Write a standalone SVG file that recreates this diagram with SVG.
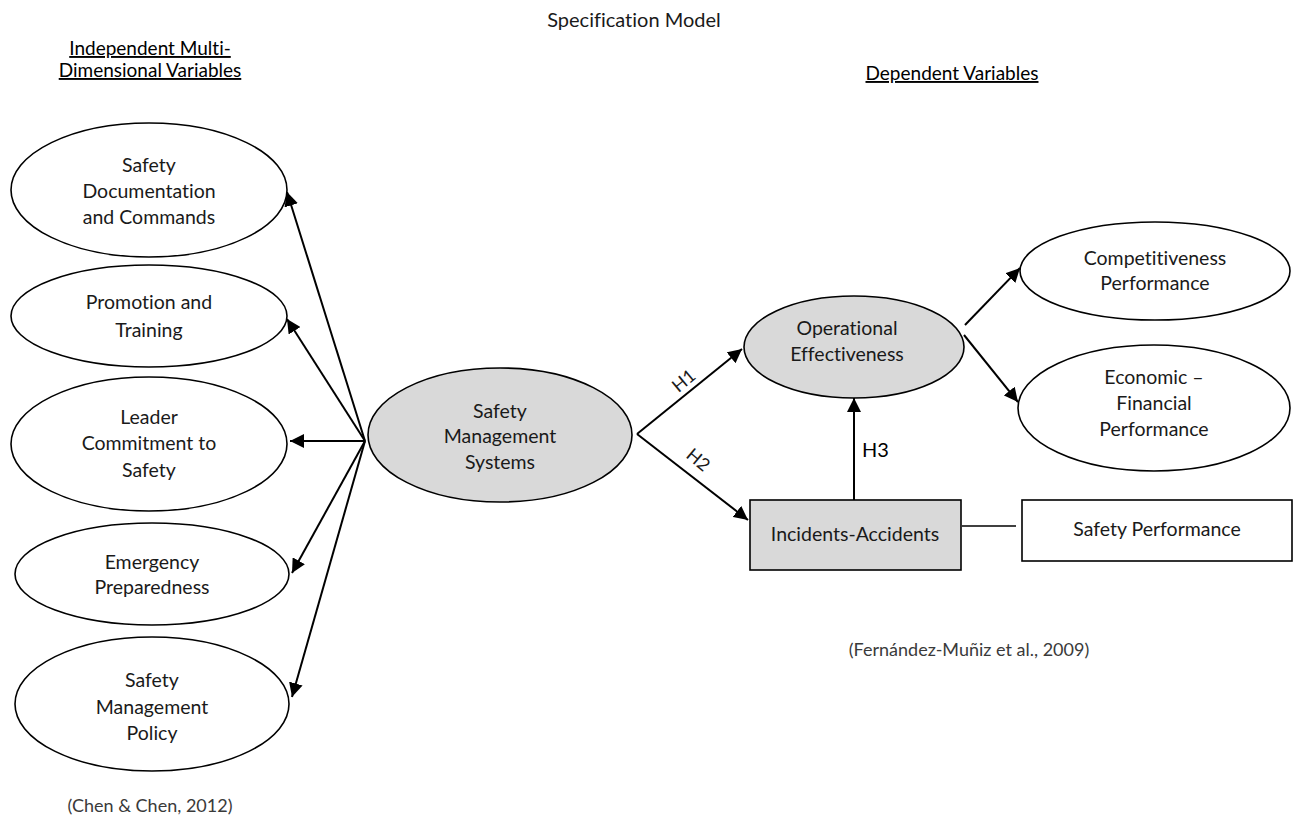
<svg xmlns="http://www.w3.org/2000/svg" width="1296" height="817" viewBox="0 0 1296 817">
<style>
text{font-family:Lato,"Open Sans","Liberation Sans",sans-serif;font-size:19.5px;fill:#1a1a1a;text-anchor:middle;font-variant-ligatures:none}
.n{fill:#fff;stroke:#000;stroke-width:1.6}
.g{fill:#d9d9d9;stroke:#000;stroke-width:1.6}
.c{stroke:#000;stroke-width:2;fill:none}
.h{font-size:19px;text-decoration:underline;fill:#000}
.cite{font-size:18px;fill:#3a3a3a}
.lbl{font-size:18px}
</style>
<defs>
<marker id="a" viewBox="0 0 10 10" refX="10" refY="5" markerWidth="7" markerHeight="7" orient="auto" markerUnits="strokeWidth">
<path d="M0,0 L10,5 L0,10 z" fill="#000"/>
</marker>
</defs>
<text x="634" y="27" style="font-size:20px">Specification Model</text>
<text class="h" x="150" y="55">Independent Multi-</text>
<text class="h" x="150" y="77">Dimensional Variables</text>
<text class="h" x="952" y="80">Dependent Variables</text>

<g id="n1"><ellipse class="n" cx="149" cy="190" rx="138" ry="67"/><text x="149" y="172">Safety</text><text x="149" y="198">Documentation</text><text x="149" y="224">and Commands</text></g>
<g id="n2"><ellipse class="n" cx="149" cy="316" rx="138" ry="51"/><text x="149" y="309">Promotion and</text><text x="149" y="337">Training</text></g>
<g id="n3"><ellipse class="n" cx="149" cy="444" rx="138" ry="67"/><text x="149" y="424">Leader</text><text x="149" y="450">Commitment to</text><text x="149" y="477">Safety</text></g>
<g id="n4"><ellipse class="n" cx="152" cy="574" rx="137" ry="51"/><text x="152" y="569">Emergency</text><text x="152" y="594">Preparedness</text></g>
<g id="n5"><ellipse class="n" cx="152" cy="704" rx="137" ry="67"/><text x="152" y="687">Safety</text><text x="152" y="714">Management</text><text x="152" y="740">Policy</text></g>
<g id="sms"><ellipse class="g" cx="500" cy="435" rx="132" ry="67"/><text x="500" y="418">Safety</text><text x="500" y="443">Management</text><text x="500" y="469">Systems</text></g>
<g id="oe"><ellipse class="g" cx="854" cy="347" rx="110" ry="51"/><text x="847" y="335">Operational</text><text x="847" y="361">Effectiveness</text></g>
<g id="cp"><ellipse class="n" cx="1155" cy="271" rx="135" ry="49"/><text x="1155" y="265">Competitiveness</text><text x="1155" y="290">Performance</text></g>
<g id="ef"><ellipse class="n" cx="1154" cy="408" rx="136" ry="63"/><text x="1154" y="384">Economic –</text><text x="1154" y="410">Financial</text><text x="1154" y="436">Performance</text></g>
<g id="ia"><rect class="g" x="750" y="500" width="211" height="70"/><text x="855" y="541">Incidents-Accidents</text></g>
<g id="sp"><rect class="n" x="1022" y="500" width="270" height="61"/><text x="1157" y="536">Safety Performance</text></g>

<g id="connectors">
<line class="c" x1="365" y1="441" x2="287" y2="192" marker-end="url(#a)"/>
<line class="c" x1="365" y1="441" x2="287" y2="319" marker-end="url(#a)"/>
<line class="c" x1="365" y1="441" x2="290" y2="441" marker-end="url(#a)"/>
<line class="c" x1="365" y1="441" x2="292" y2="573" marker-end="url(#a)"/>
<line class="c" x1="365" y1="441" x2="292" y2="697" marker-end="url(#a)"/>
<line class="c" x1="637" y1="434" x2="742" y2="349" marker-end="url(#a)"/>
<line class="c" x1="637" y1="434" x2="748" y2="520" marker-end="url(#a)"/>
<line class="c" x1="854" y1="500" x2="854" y2="398" marker-end="url(#a)"/>
<line class="c" x1="965" y1="325" x2="1020" y2="268" marker-end="url(#a)"/>
<line class="c" x1="964" y1="335" x2="1018" y2="402" marker-end="url(#a)"/>
<line stroke="#000" stroke-width="1.5" x1="962" y1="526" x2="1016" y2="526"/>
<text class="lbl" x="684" y="387" transform="rotate(-40 684 381)">H1</text>
<text class="lbl" x="698" y="466" transform="rotate(40 698 460)">H2</text>
<text x="862" y="457" style="font-size:20px;text-anchor:start;fill:#000">H3</text>
</g>
<text class="cite" x="969" y="656">(Fernández-Muñiz et al., 2009)</text>
<text class="cite" x="150" y="812">(Chen &amp; Chen, 2012)</text>
</svg>
